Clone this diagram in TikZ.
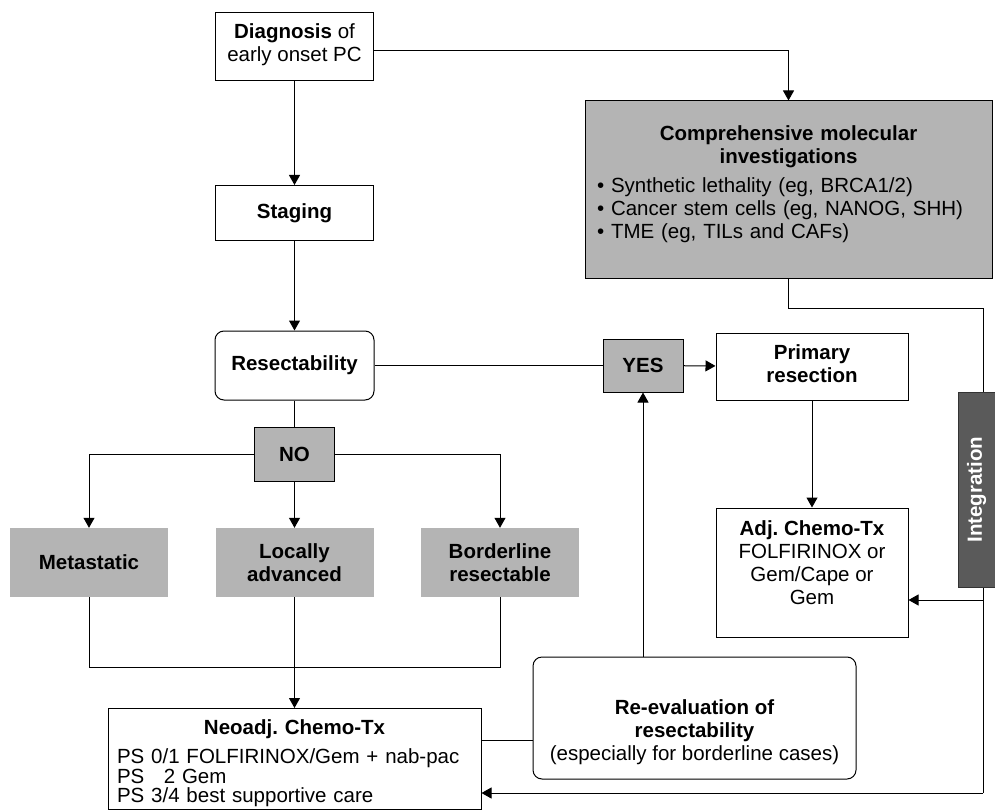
\documentclass[tikz,border=0pt]{standalone}
\usepackage{fontspec}
\setmainfont{Liberation Sans}
\usetikzlibrary{positioning, arrows.meta}
\definecolor{shade}{HTML}{B4B4B4}
\definecolor{bar}{HTML}{5A5A5A}

\begin{document}
\begin{tikzpicture}[x=1pt, y=-1pt,
    every node/.style={font=\fontsize{20.5}{23}\selectfont, align=center, inner sep=0pt},
    box/.style={draw, fill=white, line width=1pt},
    roundbox/.style={box, rounded corners=9pt},
    greybox/.style={box, fill=shade},
    tag/.style={fill=shade, minimum width=158pt, minimum height=69pt},
    wire/.style={line width=1pt},
    link/.style={wire, -{Triangle[length=10pt, width=11pt]}}]
  \useasboundingbox (0,0) rectangle (995,810);

  \node[box, minimum width=158pt, minimum height=68pt] (diag) at (294.5,46.5) {\textbf{Diagnosis} of\\early onset PC\rule[-8pt]{0pt}{8pt}};
  \node[greybox, minimum width=407pt, minimum height=177pt, text width=383pt, align=left] (mol) at (788.5,189.5)
    {{\centering\bfseries Comprehensive molecular\\investigations\par}\vspace{6pt}
     \textbullet\ Synthetic lethality (eg, BRCA1/2)\\
     \textbullet\ Cancer stem cells (eg, NANOG, SHH)\\
     \textbullet\ TME (eg, TILs and CAFs)\rule[-14pt]{0pt}{14pt}};
  \node[box, minimum width=158pt, minimum height=55pt] (staging) at (294.5,213) {\textbf{Staging}};
  \node[roundbox, minimum width=159pt, minimum height=69pt] (resect) at (294.5,365.5) {\textbf{Resectability}};
  \node[greybox, minimum width=80pt, minimum height=53pt] (yes) at (643,365.5) {\textbf{YES}};
  \node[box, minimum width=192pt, minimum height=67pt] (primary) at (812,366.5) {\textbf{Primary}\\\textbf{resection}\rule[-6pt]{0pt}{6pt}};
  \node[greybox, minimum width=80pt, minimum height=54pt] (no) at (294.5,454) {\textbf{NO}};
  \node[tag] (meta) at (89,562.5) {\textbf{Metastatic}};
  \node[tag] (local) at (294.5,562.5) {\textbf{Locally}\\\textbf{advanced}};
  \node[tag] (border) at (500,562.5) {\textbf{Borderline}\\\textbf{resectable}};
  \node[box, minimum width=192pt, minimum height=129pt] (adj) at (812,572.5)
    {\textbf{Adj.\ Chemo-Tx}\\FOLFIRINOX or\\Gem/Cape or\\Gem\rule[-19pt]{0pt}{19pt}};
  \node[box, minimum width=373pt, minimum height=101pt, text width=355pt, align=left, anchor=north] (neo) at (294.5,708)
    {{\centering\bfseries\rule{0pt}{24pt}Neoadj.\ Chemo-Tx\par}\vspace{6pt}
     PS 0/1 FOLFIRINOX/Gem + nab-pac\\[-3.5pt]
     PS\hspace{0.95em}2 Gem\\[-3.5pt]
     PS 3/4 best supportive care};
  \node[roundbox, minimum width=323pt, minimum height=122pt] (reeval) at (694.5,718)
    {\rule{0pt}{44pt}\textbf{Re-evaluation of}\\\textbf{resectability}\\(especially for borderline cases)};

  \draw[link] (diag) -- (staging);
  \draw[link] ([yshift=-4.5pt]diag.east) -| (mol.north);
  \draw[link] (staging) -- (resect);
  \draw[wire] (resect) -- (yes);
  \draw[link] (yes) -- (primary);
  \draw[wire] (resect) -- (no);
  \draw[link] (no) -| (meta);
  \draw[link] (no) -- (local);
  \draw[link] (no) -| (border);
  \draw[wire] (meta.south) -- ++(0,70) -| (border.south);
  \draw[link] (local) -- (neo);
  \draw[link] (primary) -- (adj);
  \draw[wire] ([yshift=-22pt]reeval.west) -- ([yshift=-22pt]reeval.west -| neo.east);
  \draw[link] (reeval.north -| yes) -- (yes);

  \coordinate (tap) at (983,308);
  \coordinate (foot) at (983,793);
  \draw[wire] (mol.south) |- (tap) -- (foot);
  \draw[link] (tap |- 0,600) -- (adj.east |- 0,600);
  \draw[link] (foot) -- (foot -| neo.east);

  \node[fill=bar, draw=black!80, rotate=90, minimum width=195pt, minimum height=37pt,
        text=white, font=\fontsize{20.5}{23}\selectfont\bfseries] (integ) at (976.5,489.5) {Integration};
\end{tikzpicture}
\end{document}
